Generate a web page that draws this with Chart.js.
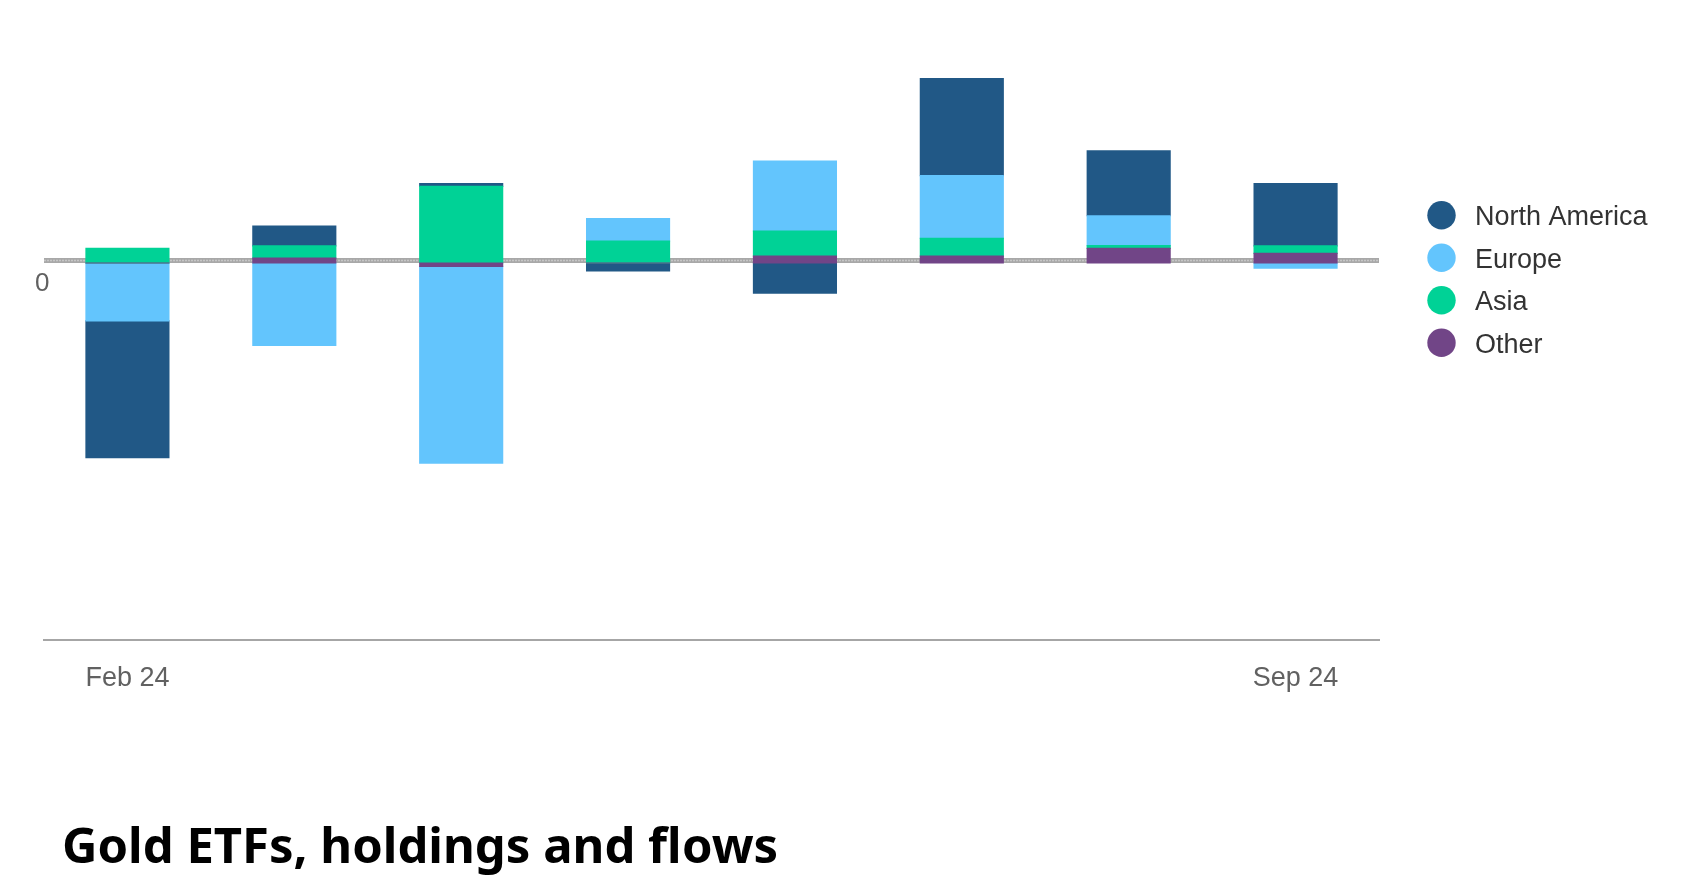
<!DOCTYPE html>
<html>
<head>
<meta charset="utf-8">
<title>Gold ETFs, holdings and flows</title>
<script src="https://cdn.jsdelivr.net/npm/chart.js@4.4.1/dist/chart.umd.min.js"></script>
<style>
  html, body { margin: 0; padding: 0; background: #fff; }
  #wrap { position: relative; width: 1695px; height: 891px; overflow: hidden; }
  #flowChart { position: absolute; left: 0; top: 0; }
  #chartTitle {
    position: absolute; left: 62px; top: 820px; margin: 0;
    font: bold 49px 'Noto Sans', sans-serif; line-height: 1; color: #000;
    white-space: nowrap;
  }
</style>
</head>
<body>
<div id="wrap">
  <canvas id="flowChart" width="1695" height="891"></canvas>
  <h1 id="chartTitle">Gold ETFs, holdings and flows</h1>
</div>
<script>
// --- DATA (monthly ETF flows by region, tonnes) ---
const months = ['Feb 24', 'Mar 24', 'Apr 24', 'May 24', 'Jun 24', 'Jul 24', 'Aug 24', 'Sep 24'];
const northAmerica = [-40.0, 5.8, 0.8, -2.3, -8.8, 28.4, 19.0, 18.2];
const europe       = [-16.9, -24.1, -57.5, 6.6, 20.5, 18.3, 8.7, -1.5];
const asia         = [4.3, 3.6, 22.4, 6.4, 7.3, 5.2, 0.8, 2.2];
const other        = [0, 1.4, -1.0, 0, 2.0, 2.0, 4.3, 2.8];

const regionNames  = ['North America', 'Europe', 'Asia', 'Other'];
const regionColors = ['#215886', '#63c5fd', '#00d296', '#714587'];

const yMin = -110;
const yMax = 70;

// legend drawn on the right, top to bottom in region order
const sideLegend = {
  id: 'sideLegend',
  afterDraw(chart) {
    const ctx = chart.ctx;
    const sets = chart.data.datasets.slice().reverse();
    ctx.save();
    ctx.font = "27px 'Liberation Sans', Arial, sans-serif";
    ctx.textBaseline = 'middle';
    ctx.textAlign = 'left';
    sets.forEach((ds, i) => {
      const y = 215.3 + i * 42.5;
      ctx.beginPath();
      ctx.arc(1441.5, y, 14.2, 0, Math.PI * 2);
      ctx.fillStyle = ds.backgroundColor;
      ctx.fill();
      ctx.fillStyle = '#333333';
      ctx.fillText(ds.label, 1475, y + 2.5);
    });
    ctx.restore();
  }
};

// thick grey zero line, sitting just above the zero value, hidden by the bars
const zeroLine = {
  id: 'zeroLine',
  beforeDatasetsDraw(chart) {
    const ctx = chart.ctx;
    const area = chart.chartArea;
    const y0 = chart.scales.y.getPixelForValue(0);
    ctx.save();
    ctx.fillStyle = '#a8a8a8';
    ctx.fillRect(area.left, y0 - 5, area.right - area.left, 5);
    ctx.strokeStyle = '#c6c6c6';
    ctx.lineWidth = 1.4;
    ctx.setLineDash([2, 1]);
    ctx.beginPath();
    ctx.moveTo(area.left, y0 - 2.5);
    ctx.lineTo(area.right, y0 - 2.5);
    ctx.stroke();
    ctx.restore();
  }
};

document.addEventListener('DOMContentLoaded', function () {
  const canvas = document.getElementById('flowChart');

  // stacking order from zero outwards: Other, Asia, Europe, North America
  const series = [other, asia, europe, northAmerica];
  const order = [3, 2, 1, 0];

  new Chart(canvas.getContext('2d'), {
    type: 'bar',
    data: {
      labels: months,
      datasets: series.map((vals, i) => ({
        label: regionNames[order[i]],
        data: vals,
        backgroundColor: regionColors[order[i]],
        borderWidth: 0,
        inflateAmount: 0.6,
        barPercentage: 0.497,
        categoryPercentage: 1.0
      }))
    },
    options: {
      responsive: false,
      animation: false,
      events: [],
      layout: { padding: { left: 0, right: 316, top: 23.4, bottom: 171.5 } },
      plugins: {
        legend: { display: false },
        tooltip: { enabled: false },
        title: { display: false }
      },
      scales: {
        x: {
          stacked: true,
          grid: { display: false, drawTicks: false },
          border: { display: true, color: '#a6a6a6', width: 2 },
          ticks: {
            autoSkip: false,
            maxRotation: 0,
            padding: 23,
            color: '#616161',
            font: { family: "'Liberation Sans', Arial, sans-serif", size: 27 },
            callback: function (value, index) {
              return (index === 0 || index === months.length - 1) ? months[index] : '';
            }
          },
          afterFit: function (scale) { scale.height = 80; }
        },
        y: {
          stacked: true,
          min: yMin,
          max: yMax,
          border: { display: false },
          grid: { display: false, drawTicks: false },
          ticks: {
            stepSize: 10,
            mirror: true,
            padding: -9,
            labelOffset: 20.5,
            color: '#616161',
            font: { family: "'Liberation Sans', Arial, sans-serif", size: 26 },
            callback: value => value === 0 ? '0' : ''
          },
          afterFit: function (scale) { scale.width = 44; }
        }
      }
    },
    plugins: [zeroLine, sideLegend]
  });
});
</script>
</body>
</html>
